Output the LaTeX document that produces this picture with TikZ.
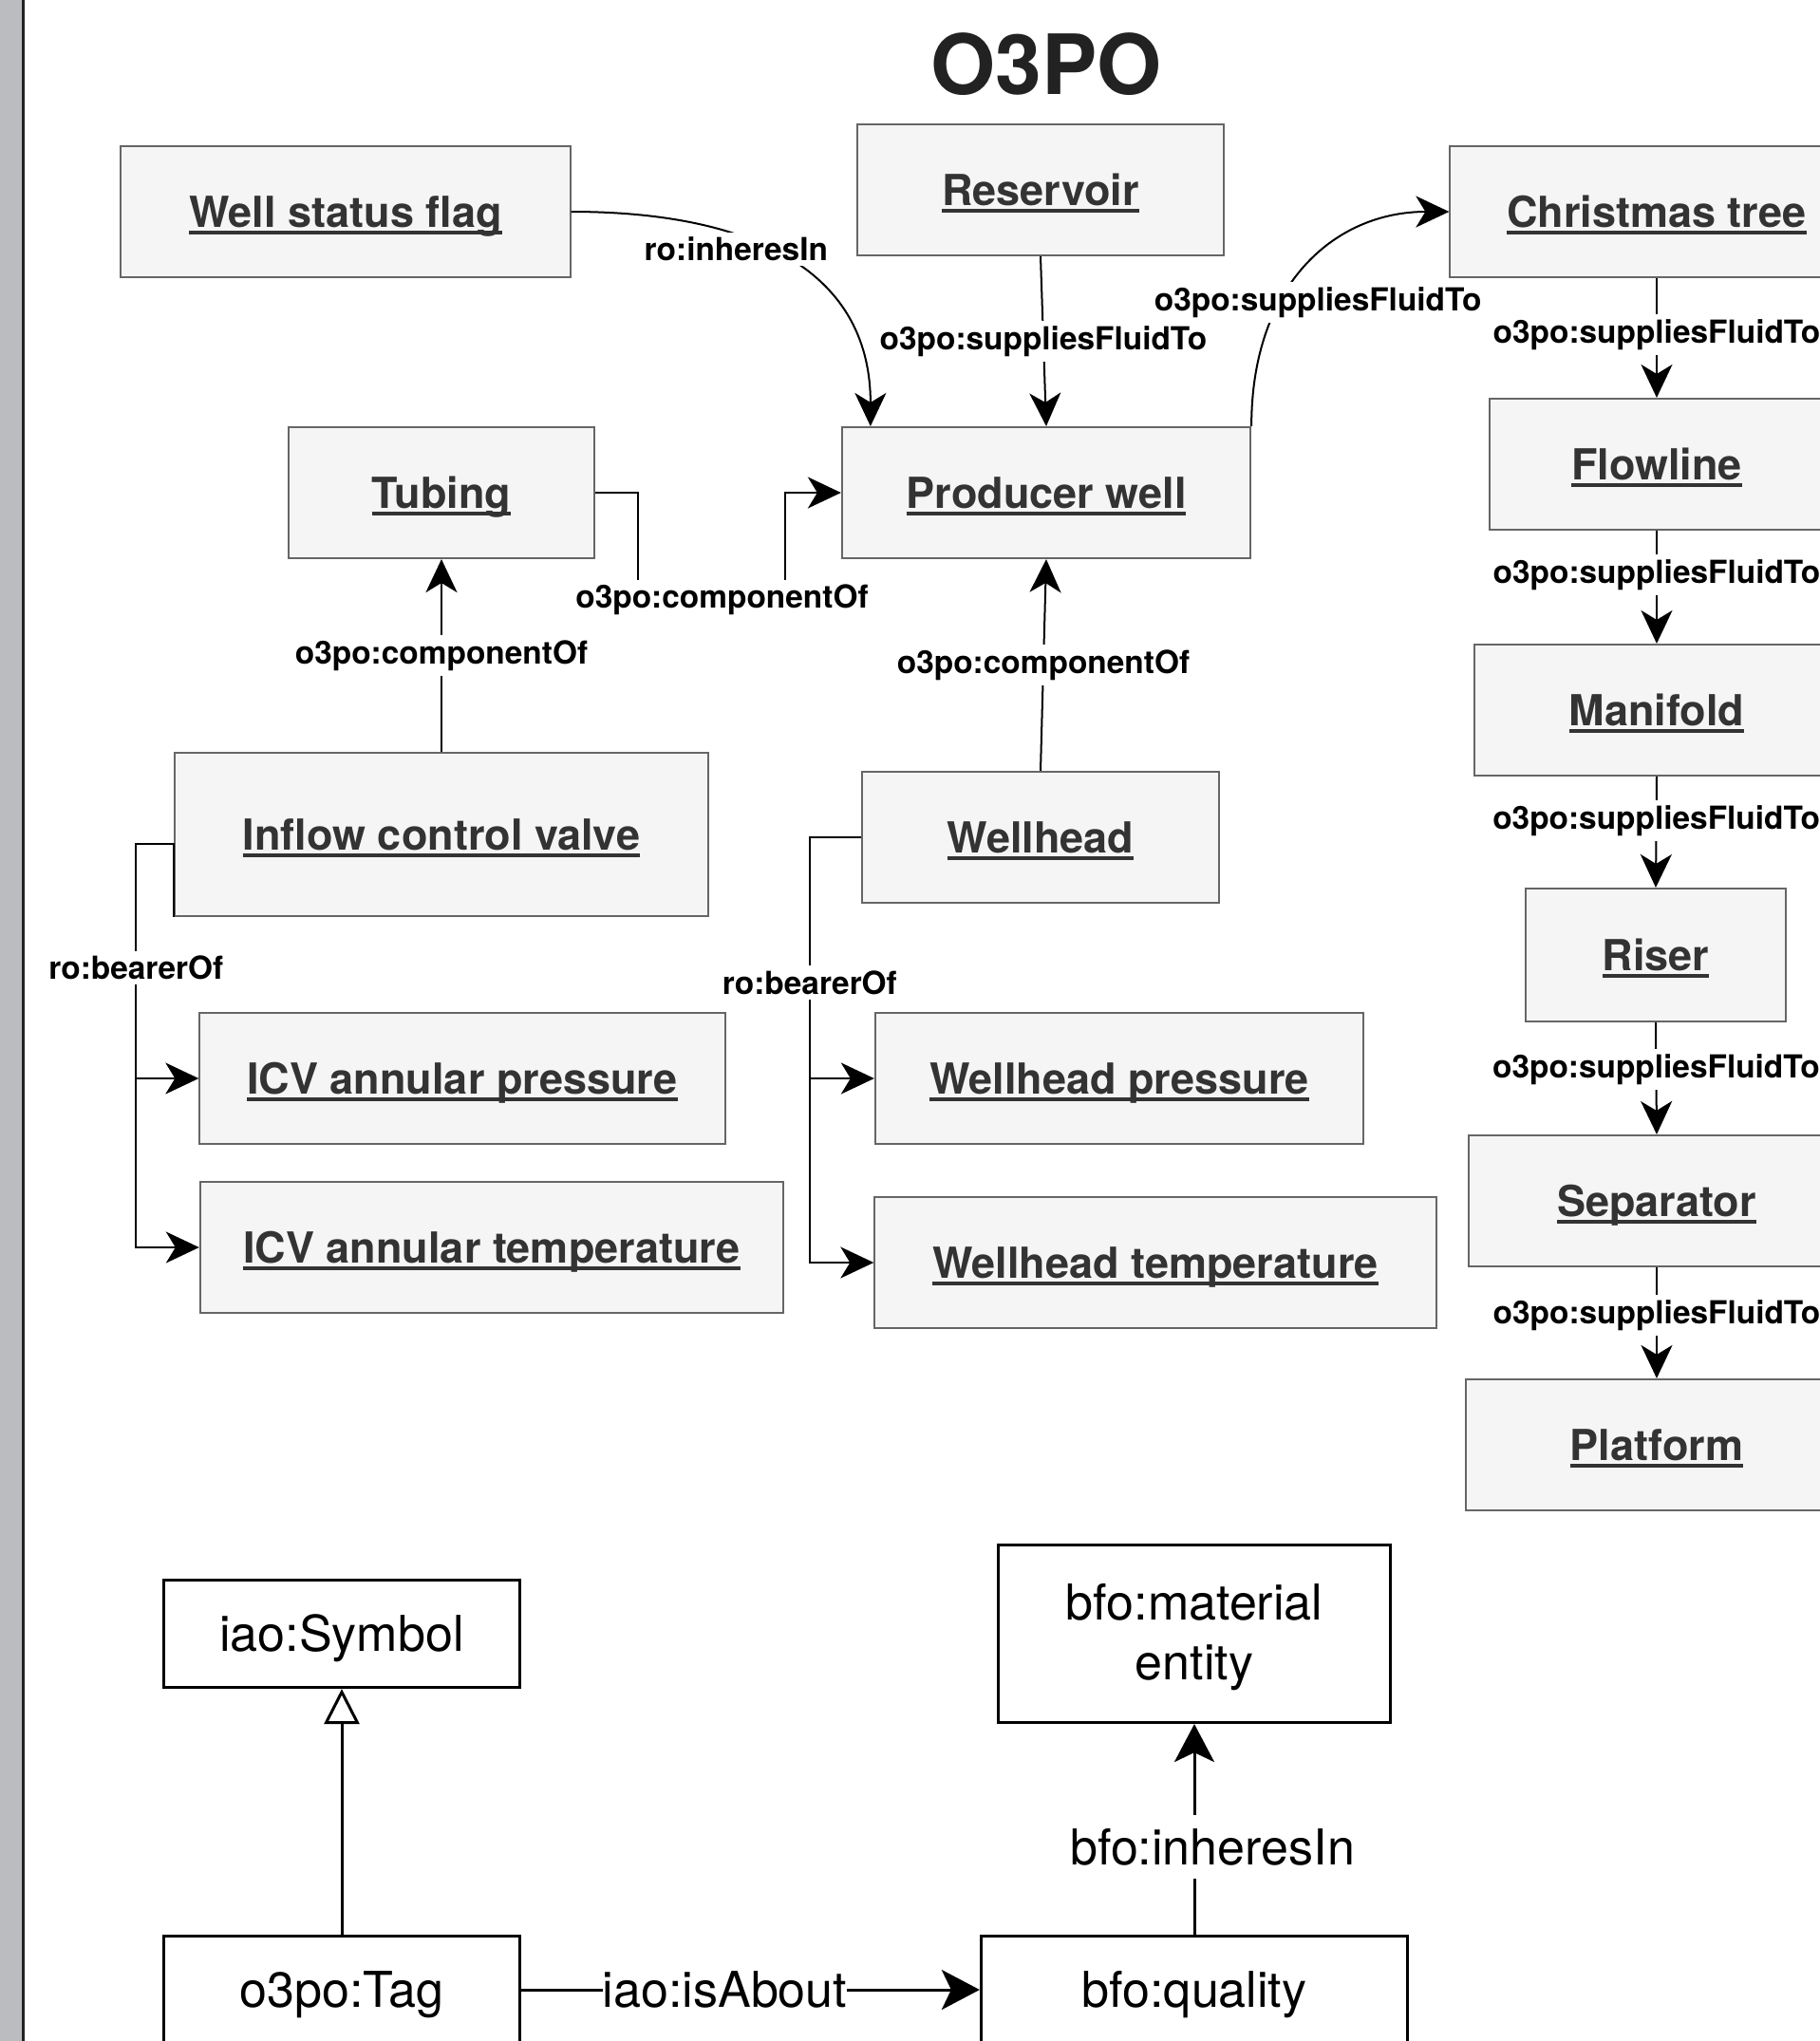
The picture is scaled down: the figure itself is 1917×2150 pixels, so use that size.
\documentclass[tikz,border=0pt]{standalone}
\usepackage{fontspec}
\setmainfont{TeX Gyre Heros}
\usetikzlibrary{arrows.meta}
\definecolor{boxfill}{HTML}{F5F5F5}
\definecolor{boxline}{HTML}{666666}
\definecolor{boxtext}{HTML}{333333}
\definecolor{sidebar}{HTML}{BBBCC0}
\definecolor{titletext}{HTML}{222222}
\newcommand\ulabel[1]{\setbox0=\hbox{#1}\rlap{\rule[-0.18em]{\wd0}{0.095em}}\box0}
\tikzset{
  indiv/.style={draw=boxline, fill=boxfill, line width=0.02cm, minimum height=1.38cm,
    inner sep=0pt, text=boxtext, font=\fontsize{12.8}{15}\selectfont\bfseries,
    text height=9.2pt, text depth=0pt},
  link/.style={line width=0.02cm, -{Stealth[length=0.35cm, width=0.33cm, inset=0.1cm]}},
  rel/.style={fill=white, inner sep=1.5pt, font=\fontsize{9.5}{11}\selectfont\bfseries},
  cls/.style={draw, fill=white, line width=0.03cm, minimum width=3.75cm, minimum height=1.13cm,
    align=center, text height=13.6pt, font=\fontsize{14.8}{17.9}\selectfont},
  axiom/.style={line width=0.03cm, -{Stealth[length=0.4cm, width=0.42cm, inset=0.1cm]}},
  isa/.style={line width=0.03cm, -{Triangle[length=0.37cm, width=0.37cm, fill=white]}},
  axlabel/.style={fill=white, inner xsep=0pt, inner ysep=0.14cm, font=\fontsize{14.8}{17.9}\selectfont}
}
\begin{document}
\begin{tikzpicture}[x=0.01cm, y=-0.01cm]
\useasboundingbox (0,0) rectangle (1917,2150);
\fill[white] (0,0) rectangle (1917,2150);
\fill[sidebar] (0,0) rectangle (23,2150);
\draw[line width=0.03cm, titletext] (24.5,0) -- (24.5,2150);

\node[text=titletext, font=\fontsize{24.9}{30}\selectfont\bfseries] (title) at (1102,68) {O3PO};

% individuals
\node[indiv, minimum width=4.73cm] (flag) at (364,223) {\ulabel{Well status flag}};
\node[indiv, minimum width=3.85cm] (reservoir) at (1096,200) {\ulabel{Reservoir}};
\node[indiv, minimum width=4.35cm] (xmastree) at (1745,223) {\ulabel{Christmas tree}};
\node[indiv, minimum width=4.30cm] (producer) at (1102,519) {\ulabel{Producer well}};
\node[indiv, minimum width=3.22cm] (tubing) at (465,519) {\ulabel{Tubing}};
\node[indiv, minimum width=3.52cm] (flowline) at (1745,489) {\ulabel{Flowline}};
\node[indiv, minimum width=3.84cm] (manifold) at (1745,748) {\ulabel{Manifold}};
\node[indiv, minimum width=5.61cm, minimum height=1.71cm] (icv) at (465,879) {\ulabel{Inflow control valve}};
\node[indiv, minimum width=3.76cm] (wellhead) at (1096,882) {\ulabel{Wellhead}};
\node[indiv, minimum width=2.73cm, minimum height=1.40cm] (riser) at (1744,1006) {\ulabel{Riser}};
\node[indiv, minimum width=5.53cm] (icvpres) at (487,1136) {\ulabel{ICV annular pressure}};
\node[indiv, minimum width=6.14cm] (icvtemp) at (518,1314) {\ulabel{ICV annular temperature}};
\node[indiv, minimum width=5.14cm] (whpres) at (1179,1136) {\ulabel{Wellhead pressure}};
\node[indiv, minimum width=5.91cm] (whtemp) at (1217,1330) {\ulabel{Wellhead temperature}};
\node[indiv, minimum width=3.96cm] (separator) at (1745,1265) {\ulabel{Separator}};
\node[indiv, minimum width=4.02cm] (platform) at (1745,1522) {\ulabel{Platform}};

% classes
\node[cls] (symbol) at (360,1721) {iao:Symbol};
\node[cls, minimum width=4.12cm, minimum height=1.87cm, text height=31pt] (material) at (1258,1721) {bfo:material\\entity};
\node[cls] (tag) at (360,2096) {o3po:Tag};
\node[cls, minimum width=4.49cm] (quality) at (1258,2096) {bfo:quality};

\draw[link] (flag.east) .. controls +(180,0) and +(0,-170) .. node[rel, pos=0.4, xshift=-0.15cm, yshift=-0.09cm] {ro:inheresIn} ([xshift=0.31cm]producer.north west);
\draw[link] (reservoir.south) -- node[rel] {o3po:suppliesFluidTo} (producer.north);
\draw[link] (producer.north east) .. controls +(0,-150) and +(-120,0) .. node[rel, pos=0.35, xshift=0.4cm] {o3po:suppliesFluidTo} (xmastree.west);
\draw[link] (tubing.east) -| (672,632) -| node[rel, pos=0.25, xshift=0.11cm] {o3po:componentOf} (827,519) -- (producer.west);
\draw[link] (icv.north) -- node[rel] {o3po:componentOf} (tubing.south);
\draw[link] (wellhead.north) -- node[rel] {o3po:componentOf} (producer.south);

\foreach \a/\b/\p in {xmastree/flowline/0.47, flowline/manifold/0.39, manifold/riser/0.40, riser/separator/0.42, separator/platform/0.43}
  \draw[link] (\a.south) -- node[rel, pos=\p] {o3po:suppliesFluidTo} (\b.north);

\draw[link] (icv.south west) -- ++(0,-77) -- ++(-40,0) coordinate (icvbus) |- node[rel, pos=0.154] {ro:bearerOf} (icvtemp.west);
\draw[link] (icvbus |- icvpres.west) -- (icvpres.west);
\draw[link] (wellhead.west) -- ++(-54,0) coordinate (whbus) |- node[rel, pos=0.171] {ro:bearerOf} (whtemp.west);
\draw[link] (whbus |- whpres.west) -- (whpres.west);

\draw[isa] (tag.north) -- (symbol.south);
\draw[axiom] (quality.north) -- node[axlabel, pos=0.415, xshift=0.19cm] {bfo:inheresIn} (material.south);
\draw[axiom] (tag.east) -- node[axlabel, pos=0.444] {iao:isAbout} (quality.west);
\end{tikzpicture}
\end{document}
